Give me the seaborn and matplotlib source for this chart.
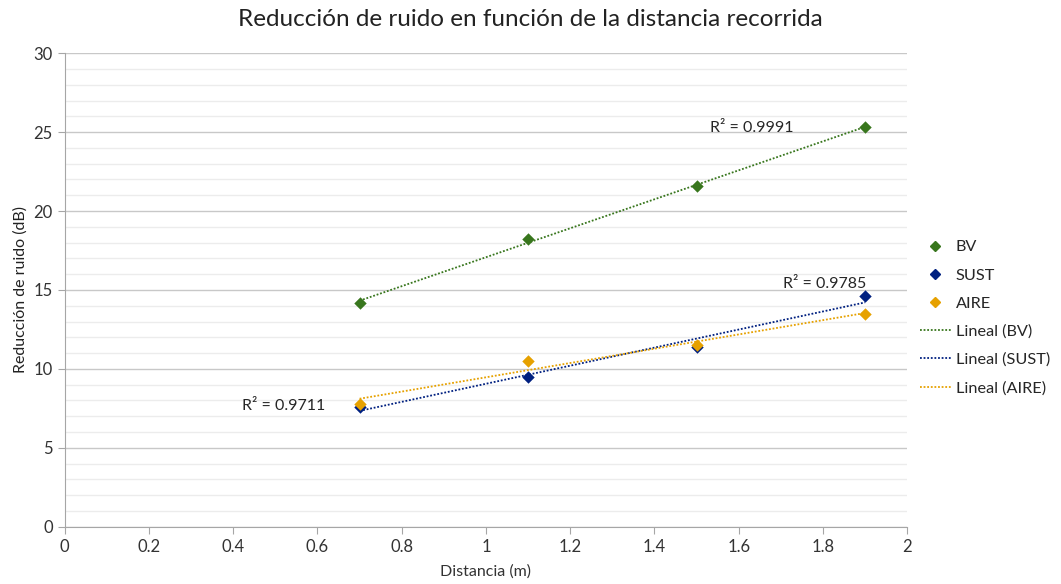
import numpy as np
import pandas as pd
import matplotlib
matplotlib.use("Agg")
import matplotlib.pyplot as plt
from matplotlib.lines import Line2D
from matplotlib.ticker import MultipleLocator
import seaborn as sns

sns.set_style("white")
plt.rcParams['font.family'] = ['Lato', 'DejaVu Sans']

# data
distancia = [0.7, 1.1, 1.5, 1.9]
bv = [14.2, 18.2, 21.6, 25.3]
sust = [7.6, 9.5, 11.4, 14.6]
aire = [7.8, 10.5, 11.5, 13.5]
series_names = ["BV", "SUST", "AIRE"]
r2_labels = ["R² = 0.9991", "R² = 0.9785", "R² = 0.9711"]
colores = ["#38761d", "#002080", "#e6a100"]

df = pd.DataFrame({"Distancia": distancia * 3,
                   "Reduccion": bv + sust + aire,
                   "Serie": np.repeat(series_names, len(distancia))})

fig = plt.figure(figsize=(10.61, 5.84), dpi=100)
ax = fig.add_axes([0.061, 0.098, 0.794, 0.811])

# trendlines (linear fit, dotted) and markers
for name, col in zip(series_names, colores):
    sub = df[df.Serie == name]
    sns.regplot(data=sub, x="Distancia", y="Reduccion", ax=ax, scatter=False, ci=None,
                line_kws=dict(color=col, ls=(0, (1, 1)), lw=1.3))
for name, col in zip(series_names, colores):
    sub = df[df.Serie == name]
    sns.scatterplot(data=sub, x="Distancia", y="Reduccion", ax=ax, color=col, marker="D",
                    s=40, edgecolor=col, linewidth=0, zorder=5)

# R² labels
ax.text(1.632, 25.25, r2_labels[0], fontsize=11.5, ha="center", va="center")
ax.text(1.805, 15.4, r2_labels[1], fontsize=11.5, ha="center", va="center")
ax.text(0.52, 7.66, r2_labels[2], fontsize=11.5, ha="center", va="center")

ax.set_xlim(0, 2)
ax.set_ylim(0, 30)
ax.yaxis.set_major_locator(MultipleLocator(5))
ax.yaxis.set_minor_locator(MultipleLocator(1))
ax.set_xticks(np.arange(0, 2.01, 0.2))
ax.set_xticklabels(["0", "0.2", "0.4", "0.6", "0.8", "1", "1.2", "1.4", "1.6", "1.8", "2"])
ax.grid(axis="y", which="major", color="#c8c8c8", lw=1)
ax.grid(axis="y", which="minor", color="#ececec", lw=1)
ax.set_axisbelow(True)
for s in ["top", "right"]:
    ax.spines[s].set_visible(False)
for s in ["left", "bottom"]:
    ax.spines[s].set_color("#a6a6a6")
ax.tick_params(axis="both", which="major", length=5, color="#a6a6a6", labelsize=12,
               direction="out", bottom=True, left=True, labelcolor="#333333")
ax.tick_params(axis="y", which="minor", length=0)

ax.set_xlabel("Distancia (m)", fontsize=11.5, labelpad=7, color="#333333")
ax.set_ylabel("Reducción de ruido (dB)", fontsize=11.5, color="#222222")
fig.suptitle("Reducción de ruido en función de la distancia recorrida", fontsize=17.5,
             x=0.50, y=0.985, color="#222222")

handles = [Line2D([], [], marker="D", color=c, ls="none", markersize=5) for c in colores]
handles += [Line2D([], [], color=c, ls=(0, (1, 1)), lw=1.3) for c in colores]
labels = series_names + ["Lineal (%s)" % n for n in series_names]
fig.legend(handles, labels, loc="center left", bbox_to_anchor=(0.864, 0.456), frameon=False,
           fontsize=11.7, handlelength=1.9, handletextpad=0.3, labelspacing=0.85,
           borderaxespad=0, borderpad=0.2)

fig.savefig("out.png", dpi=100)
